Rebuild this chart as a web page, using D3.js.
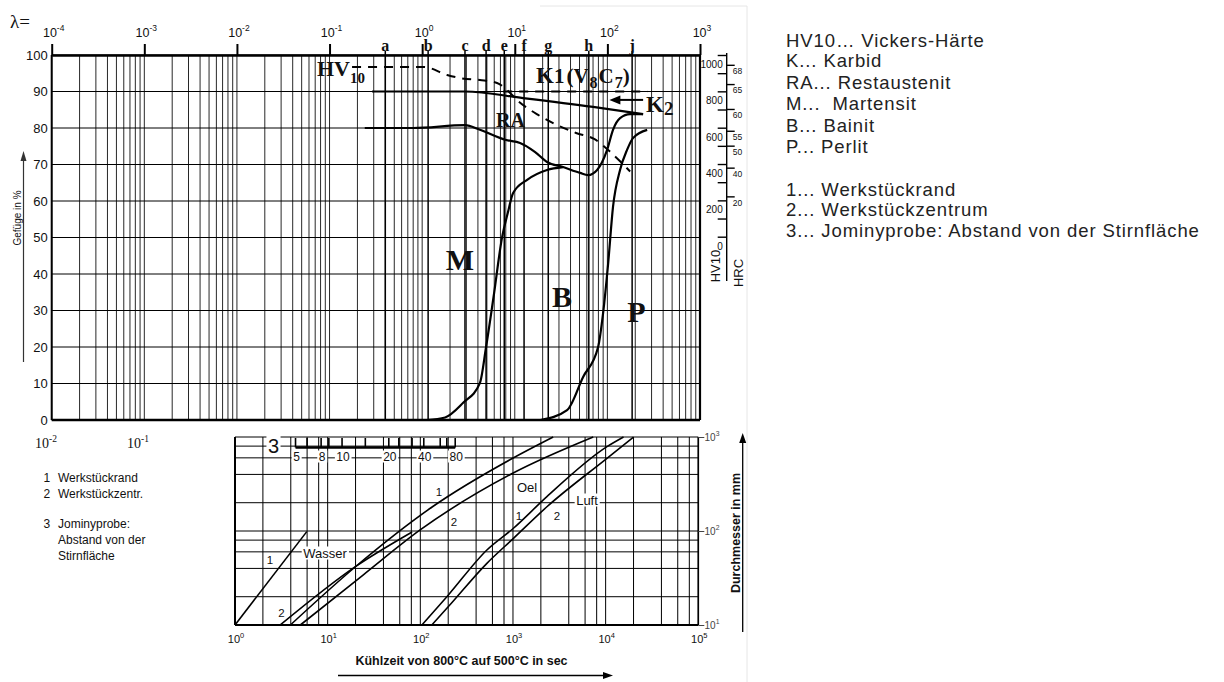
<!DOCTYPE html>
<html>
<head>
<meta charset="utf-8">
<script src="https://cdn.jsdelivr.net/npm/d3@7"></script>
<style>
  body { margin: 0; background: #fff; }
  svg text { font-family: "Liberation Sans", Arial, sans-serif; fill: #111; }
  svg text.serif { font-family: "Liberation Serif", "Times New Roman", serif; font-weight: bold; }
  svg text.serif.plain { font-weight: normal; }
</style>
</head>
<body>
<svg id="svg" width="1224" height="682"></svg>
<script>
////////////////////////////  Data  ////////////////////////////////
// upper diagram: structure in % over lambda
const lambdaDecades = [1e-4, 1e-3, 1e-2, 1e-1, 1e0, 1e1, 1e2, 1e3];
const lambdaExp = ["-4", "-3", "-2", "-1", "0", "1", "2", "3"];
const pctTicks = [0, 10, 20, 30, 40, 50, 60, 70, 80, 90, 100];
const coolLetters = ["a", "b", "c", "d", "e", "f", "g", "h", "j"];
const coolLambda = [0.4, 1.16, 2.9, 4.9, 7.7, 12.6, 23, 63, 185];
const hvTicks = [0, 100, 200, 300, 400, 500, 600, 700, 800, 900, 1000];
const hvLabels = [0, 200, 400, 600, 800, 1000];
const hrcLabels = [68, 65, 60, 55, 50, 40, 20];
const hrcAtHv = [946, 840, 703, 583, 501, 380, 222];

// [lambda, HV]
const hvCurve = [[0.175, 934], [1.05, 934], [1.86, 890], [2.57, 873], [4.2, 862], [6.44, 846],
  [8.47, 802], [10.6, 752], [17.9, 670], [28.6, 615], [45.9, 571], [71.9, 538], [112, 458], [176, 359]];
// [lambda, %]
const k1Dashed = [[7.5, 90], [270, 90]];
const k1Solid = [[0.288, 90], [2.91, 90], [12.3, 88.2], [70, 85.8], [243, 83.8]];
const raBound = [[0.24, 80], [0.8, 80], [2.91, 80.8], [4.2, 79.5], [8.05, 76.7], [11.4, 75.9],
  [16.6, 73.4], [22.3, 70.7], [33.2, 69.3], [50.7, 67.7], [61.9, 67.1], [77.5, 68.5], [99.3, 74],
  [115, 79.5], [137, 82.7], [176, 83.8], [243, 83.8]];
const mCurve = [[1.12, 0], [1.77, 0.7], [2.77, 4.7], [4.2, 10.1], [4.9, 20], [5.9, 33.7], [7.3, 50.1],
  [8.4, 56.7], [9.6, 62.2], [13.6, 65.8], [22.3, 68.5], [33.2, 69.3]];
const bCurve = [[19, 0], [36.7, 2.7], [54.7, 11.8], [79.4, 20], [89.9, 29.3], [102, 43], [115, 58.4],
  [137, 68.5], [163, 74], [190, 77.3], [269, 79.5]];

// lower diagram: diameter (mm) over cooling time (s)
const timeDecades = [1, 10, 100, 1000, 1e4, 1e5];
const timeExp = ["0", "1", "2", "3", "4", "5"];
const diamDecades = [10, 100, 1000];
const diamExp = ["1", "2", "3"];
const wasser1 = [[1, 10], [5.95, 98.5]];
const wasser2 = [[3.08, 10], [19.9, 41.7], [81.6, 97.6]];
const oel1 = [[3.96, 10], [19.8, 41.4], [134, 180], [1005, 598], [2716, 1000]];
const oel2 = [[5.07, 10], [24.1, 34], [99.5, 102.6], [1005, 414], [7345, 1000]];
const luft1 = [[104, 10], [201, 20.9], [523, 62.8], [1012, 107], [2323, 232], [10330, 789], [15600, 1000]];
const luft2 = [[133, 10], [201, 15.7], [523, 45.3], [1012, 83.5], [2323, 181], [10330, 593], [20000, 1000]];
const jominyMm = [5, 6, 8, 9, 10, 15, 20, 25, 30, 40, 50, 60, 80];
const jominyTime = [4.5, 6, 8.5, 10.3, 14.3, 25.5, 45.7, 58.6, 81.5, 109, 164, 193, 238];
const jominyLabels = [5, 8, 10, 20, 40, 80];

const legendRight = ["HV10\u2026 Vickers-H\u00e4rte", "K... Karbid", "RA... Restaustenit", "M...\u00a0 Martensit",
  "B... Bainit", "P... Perlit", "", "1... Werkst\u00fcckrand", "2... Werkst\u00fcckzentrum",
  "3... Jominyprobe: Abstand von der Stirnfl\u00e4che"];

////////////////////////////  Init  ////////////////////////////////
const svg = d3.select("#svg");

const xL = d3.scaleLog().domain([1e-4, 1e3]).range([51.7, 700]);
const yP = d3.scaleLinear().domain([0, 100]).range([420, 55]);
const yHV = d3.scaleLinear().domain([0, 1000]).range([236.7, 55]);
const xT = d3.scaleLog().domain([1, 1e5]).range([235, 698.3]);
const yD = d3.scaleLog().domain([10, 1000]).range([625, 437]);

function supText(sel, x, y, base, exp, size, cls) {
  const t = sel.append("text").attr("x", x).attr("y", y)
    .attr("font-size", size).attr("text-anchor", "middle");
  if (cls) t.attr("class", cls);
  t.append("tspan").text(base);
  t.append("tspan").attr("font-size", size * 0.68).attr("dy", -size * 0.42).text(exp);
  return t;
}

function boxedText(sel, x, y, txt, size) {
  const g = sel.append("g");
  const t = g.append("text").attr("x", x).attr("y", y).attr("font-size", size)
    .attr("text-anchor", "middle").text(txt);
  const bb = t.node().getBBox();
  g.insert("rect", "text").attr("x", bb.x - 1.5).attr("y", bb.y + 1)
    .attr("width", bb.width + 3).attr("height", bb.height - 2).attr("fill", "#fff");
  return t;
}

// faint edge of the original picture
svg.append("polyline").attr("points", "540,6 747,6 747,682")
  .attr("fill", "none").attr("stroke", "#e6e6e6").attr("stroke-width", 1);

////////////////////////////  Upper diagram  ///////////////////////
const up = svg.append("g");

const lamGrid = [];
lambdaDecades.slice(0, -1).forEach(d => d3.range(1, 10).forEach(k => lamGrid.push(d * k)));

up.selectAll(".vgrid").data(lamGrid).join("line").attr("class", "vgrid")
  .attr("x1", d => xL(d)).attr("x2", d => xL(d))
  .attr("y1", yP(100)).attr("y2", yP(0))
  .attr("stroke", "#000").attr("stroke-width", 0.85);

up.selectAll(".hgrid").data(pctTicks).join("line").attr("class", "hgrid")
  .attr("x1", xL(1e-4)).attr("x2", xL(1e3))
  .attr("y1", d => yP(d)).attr("y2", d => yP(d))
  .attr("stroke", "#000").attr("stroke-width", 1);

// cooling-curve markers a..j
up.selectAll(".cool").data(coolLambda).join("line").attr("class", "cool")
  .attr("x1", d => xL(d)).attr("x2", d => xL(d))
  .attr("y1", 51).attr("y2", yP(0))
  .attr("stroke", "#000").attr("stroke-width", 1.5);

up.selectAll(".coolLab").data(coolLetters).join("text").attr("class", "coolLab serif")
  .attr("x", (d, i) => xL(coolLambda[i])).attr("y", 51)
  .attr("text-anchor", "middle").attr("font-size", 16).text(d => d);

// frame
up.append("line").attr("x1", xL(1e-4)).attr("x2", xL(1e3)).attr("y1", yP(0)).attr("y2", yP(0))
  .attr("stroke", "#000").attr("stroke-width", 2.6);
up.append("line").attr("x1", xL(1e-4)).attr("x2", xL(1e-4)).attr("y1", yP(100)).attr("y2", yP(0))
  .attr("stroke", "#000").attr("stroke-width", 2);
up.append("line").attr("x1", xL(1e3)).attr("x2", xL(1e3)).attr("y1", yP(100)).attr("y2", yP(0))
  .attr("stroke", "#000").attr("stroke-width", 2.2);

// top lambda axis
up.append("g").attr("transform", `translate(0,${yP(100)})`)
  .call(d3.axisTop(xL).tickValues(lambdaDecades).tickSize(11).tickSizeOuter(0).tickFormat(""))
  .call(g => g.select(".domain").attr("stroke-width", 2.6))
  .call(g => g.selectAll(".tick line").attr("stroke-width", 2));

lambdaDecades.forEach((d, i) => supText(up, xL(d) + 2, 36.5, "10", lambdaExp[i], 12.5));
up.append("text").attr("class", "serif plain").attr("x", 10).attr("y", 28)
  .attr("font-size", 19).text("\u03bb=");

// left % axis
up.append("g").attr("transform", `translate(${xL(1e-4)},0)`)
  .call(d3.axisLeft(yP).tickValues(pctTicks).tickSize(0).tickPadding(4))
  .call(g => g.select(".domain").remove())
  .call(g => g.selectAll("text").attr("font-size", 13)
    .attr("font-family", "'Liberation Sans', Arial, sans-serif").attr("fill", "#111"));

up.append("text").attr("transform", "translate(20.5,218) rotate(-90)")
  .attr("text-anchor", "middle").attr("font-size", 10).text("Gef\u00fcge in %");
up.append("line").attr("x1", 23.5).attr("x2", 23.5).attr("y1", 160).attr("y2", 362)
  .attr("stroke", "#333").attr("stroke-width", 1.2);
up.append("path").attr("d", "M23.5,151 L20.5,161 L26.5,161 Z").attr("fill", "#333");

// HV10 / HRC scale
const hvX = 726.7;
up.append("line").attr("x1", hvX).attr("x2", hvX).attr("y1", 53).attr("y2", 281)
  .attr("stroke", "#000").attr("stroke-width", 1.4);
up.append("g").attr("transform", `translate(${hvX},0)`)
  .call(d3.axisLeft(yHV).tickValues(hvTicks).tickSize(9).tickSizeOuter(0)
    .tickFormat(d => hvLabels.includes(d) ? d : ""))
  .call(g => g.select(".domain").remove())
  .call(g => g.selectAll(".tick line").attr("stroke-width", 1.4))
  .call(g => g.selectAll("text").attr("x", -4).attr("dy", "1.25em").attr("font-size", 10)
    .attr("font-family", "'Liberation Sans', Arial, sans-serif").attr("fill", "#222"));
up.append("g").attr("transform", `translate(${hvX},0)`)
  .call(d3.axisRight(yHV).tickValues(hrcAtHv).tickSize(8).tickSizeOuter(0)
    .tickFormat((d, i) => hrcLabels[i]))
  .call(g => g.select(".domain").remove())
  .call(g => g.selectAll(".tick line").attr("stroke-width", 1.4))
  .call(g => g.selectAll("text").attr("x", 6).attr("dy", "1.05em").attr("font-size", 8.5)
    .attr("font-family", "'Liberation Sans', Arial, sans-serif").attr("fill", "#222"));
up.append("text").attr("transform", "translate(720,266) rotate(-90)")
  .attr("text-anchor", "middle").attr("font-size", 13).text("HV10");
up.append("text").attr("transform", "translate(743,273) rotate(-90)")
  .attr("text-anchor", "middle").attr("font-size", 13).text("HRC");

// curves
const lineP = d3.line().x(d => xL(d[0])).y(d => yP(d[1])).curve(d3.curveMonotoneX);
const lineHV = d3.line().x(d => xL(d[0])).y(d => yHV(d[1])).curve(d3.curveMonotoneX);

up.append("path").attr("d", lineHV(hvCurve)).attr("fill", "none")
  .attr("stroke", "#000").attr("stroke-width", 2).attr("stroke-dasharray", "9,7");
up.append("path").attr("d", lineP(k1Dashed)).attr("fill", "none")
  .attr("stroke", "#000").attr("stroke-width", 2).attr("stroke-dasharray", "9,7");
[k1Solid, raBound, mCurve, bCurve].forEach(c => {
  up.append("path").attr("d", lineP(c)).attr("fill", "none")
    .attr("stroke", "#000").attr("stroke-width", 2.2);
});

// K2 arrow
up.append("line").attr("x1", xL(243)).attr("x2", xL(118)).attr("y1", yP(87.7)).attr("y2", yP(87.7))
  .attr("stroke", "#000").attr("stroke-width", 2);
up.append("path")
  .attr("d", `M${xL(105)},${yP(87.7)} l11,-4.5 l0,9 Z`).attr("fill", "#000");

// phase labels
const hv = up.append("text").attr("class", "serif").attr("x", 317).attr("y", 76).attr("font-size", 22);
hv.append("tspan").text("HV");
hv.append("tspan").attr("font-size", 15).attr("dy", 7).text("10");

const k1 = up.append("text").attr("class", "serif").attr("x", 536).attr("y", 83).attr("font-size", 23);
k1.append("tspan").text("K");
k1.append("tspan").attr("font-size", 21).text("1");
k1.append("tspan").attr("font-size", 21).attr("dx", 2).text("(V");
k1.append("tspan").attr("font-size", 16).attr("dx", 1).attr("dy", 5).text("8");
k1.append("tspan").attr("font-size", 21).attr("dx", 1).attr("dy", -5).text("C");
k1.append("tspan").attr("font-size", 16).attr("dx", 1).attr("dy", 5).text("7");
k1.append("tspan").attr("font-size", 21).attr("dy", -5).text(")");

const k2 = up.append("text").attr("class", "serif").attr("x", 646).attr("y", 112).attr("font-size", 23);
k2.append("tspan").text("K");
k2.append("tspan").attr("font-size", 19).attr("dy", 3).text("2");

up.append("text").attr("class", "serif").attr("x", 496).attr("y", 127).attr("font-size", 20).text("RA");
up.append("text").attr("class", "serif").attr("x", 460).attr("y", 270).attr("font-size", 30)
  .attr("text-anchor", "middle").text("M");
up.append("text").attr("class", "serif").attr("x", 562).attr("y", 307).attr("font-size", 30)
  .attr("text-anchor", "middle").text("B");
up.append("text").attr("class", "serif").attr("x", 636.5).attr("y", 322).attr("font-size", 30)
  .attr("text-anchor", "middle").text("P");

////////////////////////////  Lower diagram  ///////////////////////
const lo = svg.append("g");

const tGrid = [];
timeDecades.slice(0, -1).forEach(d => [1, 2, 4, 6, 8].forEach(k => tGrid.push(d * k)));
tGrid.push(1e5);
const dGrid = [];
diamDecades.slice(0, -1).forEach(d => [1, 2, 4, 6, 8].forEach(k => dGrid.push(d * k)));
dGrid.push(1000);

lo.selectAll(".tgrid").data(tGrid).join("line").attr("class", "tgrid")
  .attr("x1", d => xT(d)).attr("x2", d => xT(d)).attr("y1", yD(1000)).attr("y2", yD(10))
  .attr("stroke", "#000").attr("stroke-width", 1);
lo.selectAll(".dgrid").data(dGrid).join("line").attr("class", "dgrid")
  .attr("x1", xT(1)).attr("x2", xT(1e5)).attr("y1", d => yD(d)).attr("y2", d => yD(d))
  .attr("stroke", "#000").attr("stroke-width", 1);

lo.append("line").attr("x1", xT(1)).attr("x2", xT(1e5)).attr("y1", yD(10)).attr("y2", yD(10))
  .attr("stroke", "#000").attr("stroke-width", 2.2);
lo.append("line").attr("x1", xT(1)).attr("x2", xT(1)).attr("y1", yD(1000)).attr("y2", yD(10))
  .attr("stroke", "#000").attr("stroke-width", 2);
lo.append("line").attr("x1", xT(1e5)).attr("x2", xT(1e5)).attr("y1", yD(1000)).attr("y2", yD(10))
  .attr("stroke", "#000").attr("stroke-width", 1.6);

// axes labels
timeDecades.forEach((d, i) => supText(lo, xT(d) + 1, 643, "10", timeExp[i], 11));
lo.append("g").attr("transform", `translate(${xT(1e5)},0)`)
  .call(d3.axisRight(yD).tickValues(diamDecades).tickSize(6).tickSizeOuter(0).tickFormat(""))
  .call(g => g.select(".domain").remove())
  .call(g => g.selectAll(".tick line").attr("stroke", "#444"));
diamDecades.forEach((d, i) => {
  const t = supText(lo, 712, yD(d) + 3.5, "10", diamExp[i], 10);
  t.style("fill", "#444");
});

// cooling curves
const lineT = d3.line().x(d => xT(d[0])).y(d => yD(d[1])).curve(d3.curveMonotoneX);
[wasser1, wasser2, oel1, oel2, luft1, luft2].forEach(c => {
  lo.append("path").attr("d", lineT(c)).attr("fill", "none")
    .attr("stroke", "#000").attr("stroke-width", 1.6);
});

// Jominy scale
const jY = 447.5;
lo.append("line").attr("x1", xT(jominyTime[0])).attr("x2", xT(jominyTime[jominyTime.length - 1]))
  .attr("y1", jY).attr("y2", jY).attr("stroke", "#000").attr("stroke-width", 2.6);
lo.selectAll(".jtick").data(jominyTime).join("line").attr("class", "jtick")
  .attr("x1", d => xT(d)).attr("x2", d => xT(d)).attr("y1", jY).attr("y2", 438)
  .attr("stroke", "#000").attr("stroke-width", 1.6);
jominyLabels.forEach(mm => {
  const t = jominyTime[jominyMm.indexOf(mm)];
  boxedText(lo, xT(t) + 1, 460.5, String(mm), 12);
});
boxedText(lo, 273.5, 452.5, "3", 20);

// curve labels
boxedText(lo, 325, 557.5, "Wasser", 13);
boxedText(lo, 587, 504.5, "Luft", 13);
[["1", 270, 564], ["2", 281.5, 616.5], ["1", 439, 496], ["2", 454, 526], ["1", 519, 520], ["2", 557, 520]]
  .forEach(([s, x, y]) => lo.append("text").attr("x", x).attr("y", y).attr("font-size", 11.5)
    .attr("text-anchor", "middle").text(s));
lo.append("text").attr("x", 527).attr("y", 492).attr("font-size", 13).attr("text-anchor", "middle").text("Oel");

// axis titles
lo.append("text").attr("x", 461.5).attr("y", 665).attr("font-size", 12.5).attr("font-weight", "bold")
  .attr("text-anchor", "middle").text("K\u00fchlzeit von 800\u00b0C auf 500\u00b0C in sec");
lo.append("line").attr("x1", 338).attr("x2", 604).attr("y1", 675.5).attr("y2", 675.5)
  .attr("stroke", "#000").attr("stroke-width", 1.3);
lo.append("path").attr("d", "M613,675.5 L603,672 L603,679 Z").attr("fill", "#000");

lo.append("text").attr("transform", "translate(739.5,533) rotate(-90)").attr("font-size", 12.5)
  .attr("font-weight", "bold").attr("text-anchor", "middle").text("Durchmesser in mm");
lo.append("line").attr("x1", 742.7).attr("x2", 742.7).attr("y1", 442).attr("y2", 632)
  .attr("stroke", "#000").attr("stroke-width", 1.3);
lo.append("path").attr("d", "M742.7,433 L739.2,443 L746.2,443 Z").attr("fill", "#000");

// lower left legend
supText(lo, 46, 448, "10", "-2", 14, "serif plain");
supText(lo, 138, 448, "10", "-1", 14, "serif plain");
[["1", "Werkst\u00fcckrand", 481.5], ["2", "Werkst\u00fcckzentr.", 497.5], ["3", "Jominyprobe:", 528],
 ["", "Abstand von der", 543.5], ["", "Stirnfl\u00e4che", 559.5]].forEach(([n, s, y]) => {
  lo.append("text").attr("x", 43.5).attr("y", y).attr("font-size", 12).text(n);
  lo.append("text").attr("x", 58).attr("y", y).attr("font-size", 12).text(s);
});

////////////////////////////  Right legend  ////////////////////////
const legY = [46.5, 67, 88.5, 110, 131.5, 153, 0, 195.5, 216, 236.5];
svg.append("g").selectAll("text").data(legendRight).join("text")
  .attr("x", 786).attr("y", (d, i) => legY[i])
  .attr("font-size", 18.5).attr("letter-spacing", 0.9).style("fill", "#222").text(d => d);
</script>
</body>
</html>
